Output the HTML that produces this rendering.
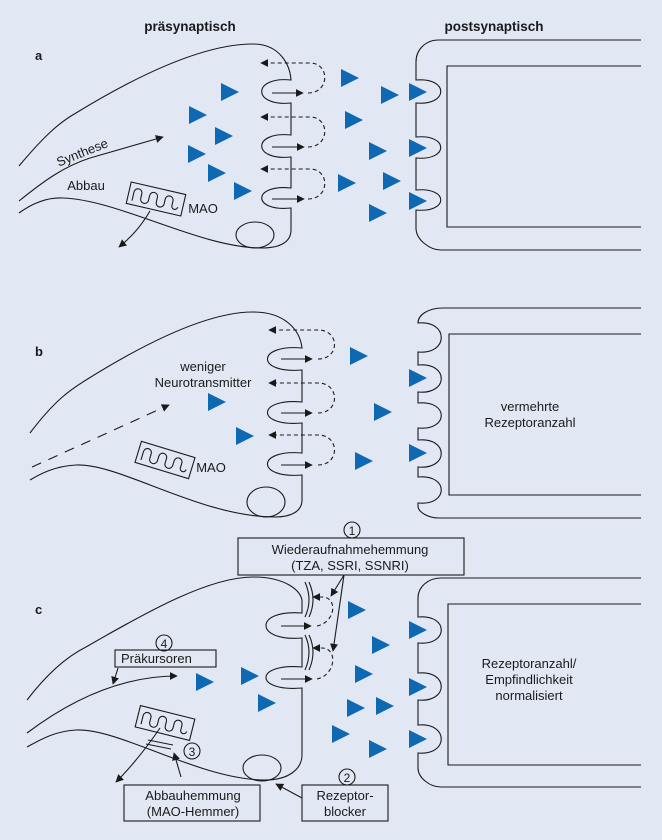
<!DOCTYPE html>
<html><head><meta charset="utf-8"><style>
html,body{margin:0;padding:0;background:#e1e8f4}
svg{display:block}
text{font-family:"Liberation Sans Narrow","Liberation Sans",sans-serif;font-size:13px;fill:#1a1a1a}
.h{font-weight:bold;font-size:13.5px}
.l{font-weight:bold;font-size:13px}
.s{fill:none;stroke:#1a1a1a;stroke-width:1.1}
.d{fill:none;stroke:#1a1a1a;stroke-width:1.1;stroke-dasharray:4,3}
.t{fill:#0f69b2}
</style></head><body>
<svg width="662" height="840" viewBox="0 0 662 840" xmlns="http://www.w3.org/2000/svg">
<defs>
<marker id="ar" viewBox="0 0 10 10" refX="9" refY="5" markerWidth="8" markerHeight="8" markerUnits="userSpaceOnUse" orient="auto"><path d="M0,0 L10,5 L0,10 z" fill="#1a1a1a"/></marker>
<symbol id="tri" overflow="visible"><polygon points="-9,-9 9,0 -9,9"/></symbol>
<g id="mao"><rect x="-28" y="-11" width="56" height="22" class="s"/><path class="s" d="M-23,7 V-2 A4,4 0 0 1 -15,-2 V3 A4,4 0 0 0 -7,3 V-2 A4,4 0 0 1 1,-2 V3 A4,4 0 0 0 9,3 V-2 A4,4 0 0 1 17,-2 V3 A3,3 0 0 0 23,3"/></g>
</defs>
<rect width="662" height="840" fill="#e1e8f4"/>

<text class="h" x="190" y="31" text-anchor="middle">präsynaptisch</text>
<text class="h" x="494" y="31" text-anchor="middle">postsynaptisch</text>

<!-- ===== Panel a ===== -->
<text class="l" x="35" y="60">a</text>
<path class="s" d="M19,166 C45,135 60,122 76,113 C130,80 200,44 253,44 C280,44 290,65 291,80 C252,76 252,107 291,103 L291,135 C252,131 252,161 291,157 L291,188 C252,184 252,212 291,208 L291,230 C291,242 280,248 262,248 C200,248 120,200 63,198 C45,197 30,205 19,213"/>
<ellipse class="s" cx="255" cy="235" rx="19" ry="13"/>
<path class="s" d="M19,201 C45,180 65,166 90,158 L163,137" marker-end="url(#ar)"/>
<text x="82" y="157" text-anchor="middle" transform="rotate(-22 82 152)">Synthese</text>
<text x="86" y="190" text-anchor="middle">Abbau</text>
<use href="#mao" transform="translate(156,199) rotate(13)"/>
<text x="203" y="213" text-anchor="middle">MAO</text>
<path class="s" d="M150,211 C140,228 130,238 119,247" marker-end="url(#ar)"/>
<path class="s" d="M272,93 L303,93" marker-end="url(#ar)"/>
<path class="s" d="M272,147 L304,147" marker-end="url(#ar)"/>
<path class="s" d="M272,199 L304,199" marker-end="url(#ar)"/>
<path class="d" d="M308,93 C330,93 330,63 310,63 L261,63" marker-end="url(#ar)"/>
<path class="d" d="M308,147 C330,147 330,117 310,117 L261,117" marker-end="url(#ar)"/>
<path class="d" d="M308,199 C330,199 330,169 310,169 L261,169" marker-end="url(#ar)"/>
<path class="s" d="M641,40 L439,40 C425,40 416,50 416,62 L416,80 C449,77 449,106 416,103 L416,137 C449,134 449,161 416,158 L416,190 C449,187 449,213 416,210 L416,228 C416,240 430,250 441,250 L641,250"/>
<path class="s" d="M641,66 L447,66 L447,227 L641,227"/>
<g class="t">
<use href="#tri" x="230" y="92"/><use href="#tri" x="198" y="115"/><use href="#tri" x="224" y="136"/><use href="#tri" x="197" y="154"/><use href="#tri" x="217" y="173"/><use href="#tri" x="243" y="191"/>
<use href="#tri" x="350" y="78"/><use href="#tri" x="354" y="120"/><use href="#tri" x="390" y="95"/><use href="#tri" x="418" y="92"/><use href="#tri" x="378" y="151"/><use href="#tri" x="418" y="148"/><use href="#tri" x="347" y="183"/><use href="#tri" x="392" y="181"/><use href="#tri" x="418" y="201"/><use href="#tri" x="378" y="213"/>
</g>

<!-- ===== Panel b ===== -->
<text class="l" x="35" y="356">b</text>
<path class="s" d="M30,433 C55,400 70,390 86,380 C150,340 210,312 253,312 C285,312 300,330 302,348 C256,344 256,374 302,370 L302,402 C256,398 256,427 302,423 L302,453 C256,449 256,479 302,475 L302,500 C302,512 290,517 275,517 C200,517 120,463 76,465 C55,466 40,474 30,480"/>
<ellipse class="s" cx="266" cy="502" rx="19" ry="15"/>
<path class="s" d="M32,467 L169,405" stroke-dasharray="10,8" marker-end="url(#ar)"/>
<text x="203" y="371" text-anchor="middle">weniger</text>
<text x="203" y="387" text-anchor="middle">Neurotransmitter</text>
<use href="#mao" transform="translate(165,460) rotate(17)"/>
<text x="211" y="472" text-anchor="middle">MAO</text>
<path class="s" d="M281,359 L312,359" marker-end="url(#ar)"/>
<path class="s" d="M281,413 L312,413" marker-end="url(#ar)"/>
<path class="s" d="M281,465 L312,465" marker-end="url(#ar)"/>
<path class="d" d="M318,359 C340,359 340,330 318,330 L269,330" marker-end="url(#ar)"/>
<path class="d" d="M318,413 C340,413 340,383 318,383 L269,383" marker-end="url(#ar)"/>
<path class="d" d="M318,465 C340,465 340,435 318,435 L269,435" marker-end="url(#ar)"/>
<path class="s" d="M641,308 L443,308 C428,308 418,315 418,323 C449,320 449,355 418,352 L418,365 C449,362 449,395 418,392 L418,403 C449,400 449,431 418,428 L418,440 C449,437 449,470 418,467 L418,477 C449,474 449,506 418,503 L418,506 C418,512 428,518 439,518 L641,518"/>
<path class="s" d="M641,334 L449,334 L449,495 L641,495"/>
<text x="530" y="411" text-anchor="middle">vermehrte</text>
<text x="530" y="427" text-anchor="middle">Rezeptoranzahl</text>
<g class="t">
<use href="#tri" x="359" y="356"/><use href="#tri" x="418" y="378"/><use href="#tri" x="217" y="402"/><use href="#tri" x="383" y="412"/><use href="#tri" x="245" y="436"/><use href="#tri" x="364" y="461"/><use href="#tri" x="418" y="453"/>
</g>

<!-- ===== Panel c ===== -->
<circle class="s" cx="352" cy="530" r="8"/><text x="352" y="535" text-anchor="middle" style="font-size:12px">1</text>
<rect class="s" x="238" y="538" width="226" height="37"/>
<text x="350" y="554" text-anchor="middle">Wiederaufnahmehemmung</text>
<text x="350" y="570" text-anchor="middle">(TZA, SSRI, SSNRI)</text>
<text class="l" x="35" y="614">c</text>
<path class="s" d="M27,700 C50,670 70,655 86,647 C150,610 210,577 253,577 C285,577 300,590 302,600 L302,613 C254,609 254,642 302,638 L302,667 C254,663 254,692 302,688 L302,755 C302,768 290,780 265,780 C200,780 120,728 76,730 C55,731 40,740 27,747"/>
<path class="s" d="M305,582 Q313,600 305,617 M309,582 Q317,600 309,617 M305,635 Q313,652 305,670 M309,635 Q317,652 309,670"/>
<ellipse class="s" cx="262" cy="768" rx="19" ry="13"/>
<path class="s" d="M281,626 L311,626" marker-end="url(#ar)"/>
<path class="s" d="M281,679 L312,679" marker-end="url(#ar)"/>
<path class="d" d="M317,626 C336,622 338,597 322,597 L313,597" marker-end="url(#ar)"/>
<path class="d" d="M317,679 C336,675 338,648 322,648 L313,648" marker-end="url(#ar)"/>
<path class="s" d="M344,575 L331,596" marker-end="url(#ar)"/>
<path class="s" d="M344,575 L333,651" marker-end="url(#ar)"/>
<circle class="s" cx="164" cy="643" r="8"/><text x="164" y="648" text-anchor="middle" style="font-size:12px">4</text>
<rect class="s" x="115" y="650" width="101" height="17"/>
<text x="121" y="663">Präkursoren</text>
<path class="s" d="M27,733 C80,693 130,676 177,676" marker-end="url(#ar)"/>
<path class="s" d="M118,668 L113,684" marker-end="url(#ar)"/>
<use href="#mao" transform="translate(165,723) rotate(14)"/>
<path class="s" d="M148,740 L173,745 M146,744 L171,749"/>
<circle class="s" cx="192" cy="751" r="8"/><text x="192" y="756" text-anchor="middle" style="font-size:12px">3</text>
<path class="s" d="M181,777 L174,753" marker-end="url(#ar)"/>
<path class="s" d="M160,728 C145,750 130,768 116,782" marker-end="url(#ar)"/>
<rect class="s" x="124" y="785" width="136" height="36"/>
<text x="193" y="800" text-anchor="middle">Abbauhemmung</text>
<text x="193" y="816" text-anchor="middle">(MAO-Hemmer)</text>
<circle class="s" cx="347" cy="777" r="8"/><text x="347" y="782" text-anchor="middle" style="font-size:12px">2</text>
<rect class="s" x="302" y="785" width="86" height="36"/>
<text x="345" y="800" text-anchor="middle">Rezeptor-</text>
<text x="345" y="816" text-anchor="middle">blocker</text>
<path class="s" d="M302,798 L276,784" marker-end="url(#ar)"/>
<path class="s" d="M641,578 L441,578 C428,578 418,587 418,598 L418,617 C449,614 449,646 418,643 L418,673 C449,670 449,703 418,700 L418,725 C449,722 449,756 418,753 L418,768 C418,778 430,787 441,787 L641,787"/>
<path class="s" d="M641,604 L448,604 L448,765 L641,765"/>
<text x="529" y="668" text-anchor="middle">Rezeptoranzahl/</text>
<text x="529" y="684" text-anchor="middle">Empfindlichkeit</text>
<text x="529" y="700" text-anchor="middle">normalisiert</text>
<g class="t">
<use href="#tri" x="357" y="610"/><use href="#tri" x="418" y="630"/><use href="#tri" x="381" y="645"/><use href="#tri" x="364" y="674"/><use href="#tri" x="418" y="687"/><use href="#tri" x="356" y="708"/><use href="#tri" x="385" y="706"/><use href="#tri" x="341" y="734"/><use href="#tri" x="418" y="739"/><use href="#tri" x="378" y="749"/><use href="#tri" x="205" y="682"/><use href="#tri" x="250" y="676"/><use href="#tri" x="267" y="703"/>
</g>
</svg>
</body></html>
